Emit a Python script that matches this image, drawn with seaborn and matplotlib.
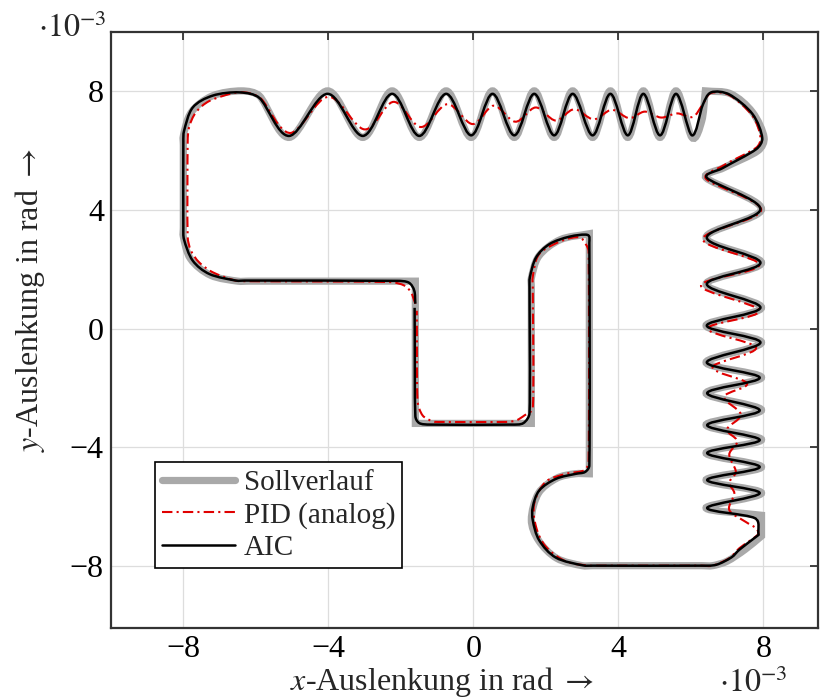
import numpy as np
import matplotlib
matplotlib.use("Agg")
import matplotlib.pyplot as plt
import seaborn as sns
from matplotlib.path import Path
from matplotlib.patches import PathPatch
from matplotlib.lines import Line2D

# Werte in 10^-3 rad, abgelesen aus dem Bild
# doppelte Punkte = scharfe Ecke

# Sollverlauf (geschlossen, Start an der Ecke (-1.6, 1.6))
soll_x = [-1.6, -6.2, -6.5, -7.25, -7.8, -8.0, -8.0, -8.0, -8.0, -7.78, -7.2, -6.4, -5.9,
          -5.08, -4.02, -3.05, -2.24, -1.49, -0.75, -0.06, 0.53, 1.13, 1.68, 2.23, 2.74,
          3.29, 3.78, 4.26, 4.69, 5.15, 5.59, 6.03, 6.3, 6.4, 6.4,
          7.1, 7.7, 8.02, 7.85, 6.9,
          6.42, 7.95, 6.42, 7.95, 6.42, 7.95, 6.42, 7.95, 6.42, 7.95, 6.42, 7.95,
          6.42, 7.95, 6.42, 7.95, 6.42, 7.95, 6.42, 7.95, 7.95, 7.95, 7.95,
          7.5, 7.0, 6.6, 6.3, 3.3, 3.0,
          2.3, 1.8, 1.6, 1.8, 2.3, 2.8, 3.2, 3.2,
          3.2, 3.2, 2.4, 1.81, 1.6, 1.6,
          1.6, 1.6, -1.6, -1.6, -1.6]
soll_y = [1.6, 1.6, 1.6, 1.8, 2.35, 3.1, 3.4, 6.2, 6.5, 7.3, 7.85, 8.02, 7.85,
          6.45, 8.02, 6.45, 8.02, 6.45, 8.02, 6.45, 8.02, 6.45, 8.02, 6.45, 8.02,
          6.45, 8.02, 6.45, 8.02, 6.45, 8.02, 6.45, 7.0, 8.02, 8.02,
          7.92, 7.3, 6.45, 6.0, 5.42,
          5.09, 4.03, 3.07, 2.22, 1.5, 0.71, 0.1, -0.47, -1.14, -1.65, -2.18, -2.75,
          -3.25, -3.75, -4.2, -4.67, -5.11, -5.55, -6.05, -6.3, -6.3, -7.0, -7.0,
          -7.45, -7.85, -8.0, -8.0, -8.0, -8.0,
          -7.75, -7.15, -6.45, -5.55, -5.05, -4.9, -4.9, -4.9,
          3.2, 3.2, 3.0, 2.45, 1.7, 1.4,
          -3.2, -3.2, -3.2, -3.2, 1.6]

# PID (analog)
pid_x = [-1.6, -1.72, -1.9, -2.3, -6.4, -6.6, -7.19, -7.56, -7.79, -7.88, -7.88, -7.84,
         -7.65, -7.28, -6.6, -6.2, -5.85,
         -5.05, -4.0, -3.0, -2.2, -1.45, -0.72, -0.02, 0.56, 1.16, 1.72, 2.27, 2.78,
         3.32, 3.82, 4.3, 4.73, 5.18, 5.62, 6.05, 6.33, 6.56,
         7.06, 7.7, 7.92, 7.8, 6.88,
         6.42, 7.94, 6.33, 7.89, 6.28, 7.89, 6.46, 7.8, 6.6, 7.55, 6.92, 7.38,
         7.0, 7.28, 7.06, 7.24, 7.06, 7.2, 7.06, 7.51, 7.8, 7.85,
         7.34, 7.06, 6.6, 6.3, 3.4, 3.2,
         2.56, 2.0, 1.73, 1.68, 2.0, 2.56, 3.06, 3.18, 3.18, 3.1, 2.92, 2.46,
         1.82, 1.64, 1.64, 1.64, 1.41, 1.18, 0.9, -0.9, -1.12, -1.4, -1.54, -1.56]
pid_y = [0.84, 1.22, 1.45, 1.57, 1.6, 1.63, 1.9, 2.23, 2.63, 3.1, 6.3, 6.8,
         7.3, 7.68, 7.95, 7.95, 7.75,
         6.6, 7.82, 6.72, 7.65, 6.8, 7.57, 6.9, 7.52, 6.98, 7.46, 7.02, 7.4,
         7.06, 7.38, 7.1, 7.32, 7.12, 7.26, 7.14, 7.57, 7.95,
         7.88, 7.18, 6.45, 6.1, 5.49,
         5.05, 4.0, 3.02, 2.15, 1.45, 0.6, 0.0, -0.65, -1.3, -1.85, -2.3, -2.9,
         -3.4, -3.8, -4.25, -4.83, -5.2, -5.56, -6.12, -6.52, -6.74, -6.95,
         -7.41, -7.75, -8.0, -8.0, -8.0, -8.0,
         -7.86, -7.36, -6.69, -5.9, -5.17, -4.9, -4.78, -4.45, 2.6, 2.85, 3.08, 2.97,
         2.52, 1.75, 1.4, -2.7, -2.93, -3.1, -3.15, -3.15, -3.13, -2.93, -2.43, 0.6]

# AIC
aic_x = [-1.6, -1.63, -1.78, -2.1, -6.3, -6.55, -7.28, -7.74, -7.98, -8.0, -8.0, -7.98,
         -7.74, -7.19, -6.45, -5.9,
         -5.08, -4.02, -3.05, -2.24, -1.49, -0.75, -0.06, 0.53, 1.13, 1.68, 2.23, 2.74,
         3.29, 3.78, 4.26, 4.69, 5.15, 5.59, 6.03, 6.33, 6.56,
         7.06, 7.7, 7.97, 7.8, 6.87,
         6.44, 7.92, 6.44, 7.92, 6.44, 7.92, 6.44, 7.92, 6.44, 7.9, 6.45, 7.9,
         6.45, 7.9, 6.45, 7.9, 6.45, 7.9, 6.45, 7.77, 7.87, 7.87,
         7.34, 7.12, 6.7, 6.3, 3.3, 3.02,
         2.28, 1.82, 1.64, 1.64, 1.82, 2.28, 2.83, 3.08, 3.2, 3.2, 3.15, 2.65,
         2.1, 1.73, 1.56, 1.55, 1.55, 1.38, 1.05, -1.2, -1.49, -1.6, -1.62]
aic_y = [0.84, 1.28, 1.55, 1.61, 1.62, 1.62, 1.84, 2.29, 3.0, 3.4, 6.3, 6.67,
         7.46, 7.86, 7.97, 7.78,
         6.5, 7.92, 6.5, 7.92, 6.5, 7.92, 6.52, 7.92, 6.52, 7.92, 6.52, 7.92,
         6.52, 7.92, 6.52, 7.92, 6.52, 7.92, 6.52, 7.55, 7.97,
         7.9, 7.24, 6.43, 6.05, 5.41,
         5.09, 4.03, 3.07, 2.22, 1.5, 0.71, 0.1, -0.47, -1.14, -1.66, -2.18, -2.76,
         -3.26, -3.76, -4.2, -4.67, -5.11, -5.55, -6.05, -6.4, -6.96, -6.96,
         -7.46, -7.72, -7.97, -8.0, -8.0, -7.99,
         -7.73, -7.15, -6.47, -6.02, -5.46, -5.07, -4.9, -4.84, -4.62, 2.9, 3.16, 3.1,
         2.85, 2.4, 1.73, 1.4, -2.85, -3.19, -3.24, -3.24, -3.19, -2.95, 0.7]

ticks = [-8, -4, 0, 4, 8]


def smooth_path(xs, ys, closed=False):
    # glatte Kurve durch die Punkte (Bezier, Catmull-Rom-Tangenten)
    pts = np.column_stack([xs, ys]).astype(float)
    pieces = [[pts[0]]]
    for p in pts[1:]:
        if np.allclose(p, pieces[-1][-1]):
            pieces.append([p])
        else:
            pieces[-1].append(p)
    verts = [pts[0]]
    codes = [Path.MOVETO]
    for piece in pieces:
        q = np.array(piece)
        if len(q) < 2:
            continue
        tang = np.zeros_like(q)
        tang[0] = q[1] - q[0]
        tang[-1] = q[-1] - q[-2]
        tang[1:-1] = (q[2:] - q[:-2]) / 2
        for i in range(len(q) - 1):
            L = np.linalg.norm(q[i + 1] - q[i])
            t0, t1 = tang[i], tang[i + 1]
            n0, n1 = np.linalg.norm(t0), np.linalg.norm(t1)
            c1 = q[i] + t0 / n0 * min(n0, L) / 3
            c2 = q[i + 1] - t1 / n1 * min(n1, L) / 3
            verts += [c1, c2, q[i + 1]]
            codes += [Path.CURVE4] * 3
    if closed:
        verts.append(pts[0])
        codes.append(Path.CLOSEPOLY)
    return Path(verts, codes)


sns.set_theme(style="whitegrid")
plt.rcParams['font.family'] = ['Liberation Serif', 'DejaVu Serif']
plt.rcParams['mathtext.fontset'] = 'stix'
plt.rcParams['axes.unicode_minus'] = True

fig = plt.figure(figsize=(8.21, 7.0), dpi=100)
ax = fig.add_axes([0.135, 0.103, 0.861, 0.851])
ax.set_facecolor('white')

c_soll = '#a9a9a9'
c_pid = '#e00000'
c_aic = 'black'
pid_ls = (0, (5, 2, 1, 2))

ax.add_patch(PathPatch(smooth_path(soll_x, soll_y, closed=True), fill=False,
                       edgecolor=c_soll, lw=5.2, joinstyle='miter', zorder=2))
ax.add_patch(PathPatch(smooth_path(pid_x, pid_y), fill=False, edgecolor=c_pid,
                       lw=1.5, linestyle=pid_ls, zorder=3))
ax.add_patch(PathPatch(smooth_path(aic_x, aic_y), fill=False, edgecolor=c_aic,
                       lw=1.8, joinstyle='round', capstyle='butt', zorder=4))

ax.set_xlim(-10, 9.5)
ax.set_ylim(-10.1, 10.0)
ax.set_xticks(ticks)
ax.set_yticks(ticks)
ax.set_xticklabels([f'{t}'.replace('-', '\u2212') for t in ticks])
ax.set_yticklabels([f'{t}'.replace('-', '\u2212') for t in ticks])
ax.grid(True, color='#dddddd', lw=0.9)
ax.tick_params(direction='in', length=6, width=1.2, colors='#222222',
               labelsize=23, top=True, right=True, pad=5)
ax.tick_params(labelcolor='black')
for s in ax.spines.values():
    s.set_color('#333333')
    s.set_linewidth(1.6)

ax.set_xlabel(r'$x$-Auslenkung in rad $\rightarrow$', fontsize=23)
ax.set_ylabel(r'$y$-Auslenkung in rad $\rightarrow$', fontsize=23)
ax.xaxis.set_label_coords(0.468, -0.062)
ax.yaxis.set_label_coords(-0.09, 0.55)

fig.text(0.046, 1 - 37 / 700, r'$\cdot 10^{-3}$', fontsize=23, va='baseline')
fig.text(0.876, 1 - 692 / 700, r'$\cdot 10^{-3}$', fontsize=23, va='baseline')

handles = [Line2D([], [], color=c_soll, lw=5.2),
           Line2D([], [], color=c_pid, lw=1.5, linestyle=pid_ls),
           Line2D([], [], color=c_aic, lw=1.8)]
leg = ax.legend(handles, ['Sollverlauf', 'PID (analog)', 'AIC'], loc='lower left',
                bbox_to_anchor=(0.062, 0.10), borderaxespad=0, fontsize=21,
                handlelength=2.5, handletextpad=0.3, labelspacing=0.2,
                borderpad=0.25, fancybox=False, framealpha=1)
leg.get_frame().set_edgecolor('black')
leg.get_frame().set_linewidth(1.2)

fig.savefig('out.png', dpi=100)
